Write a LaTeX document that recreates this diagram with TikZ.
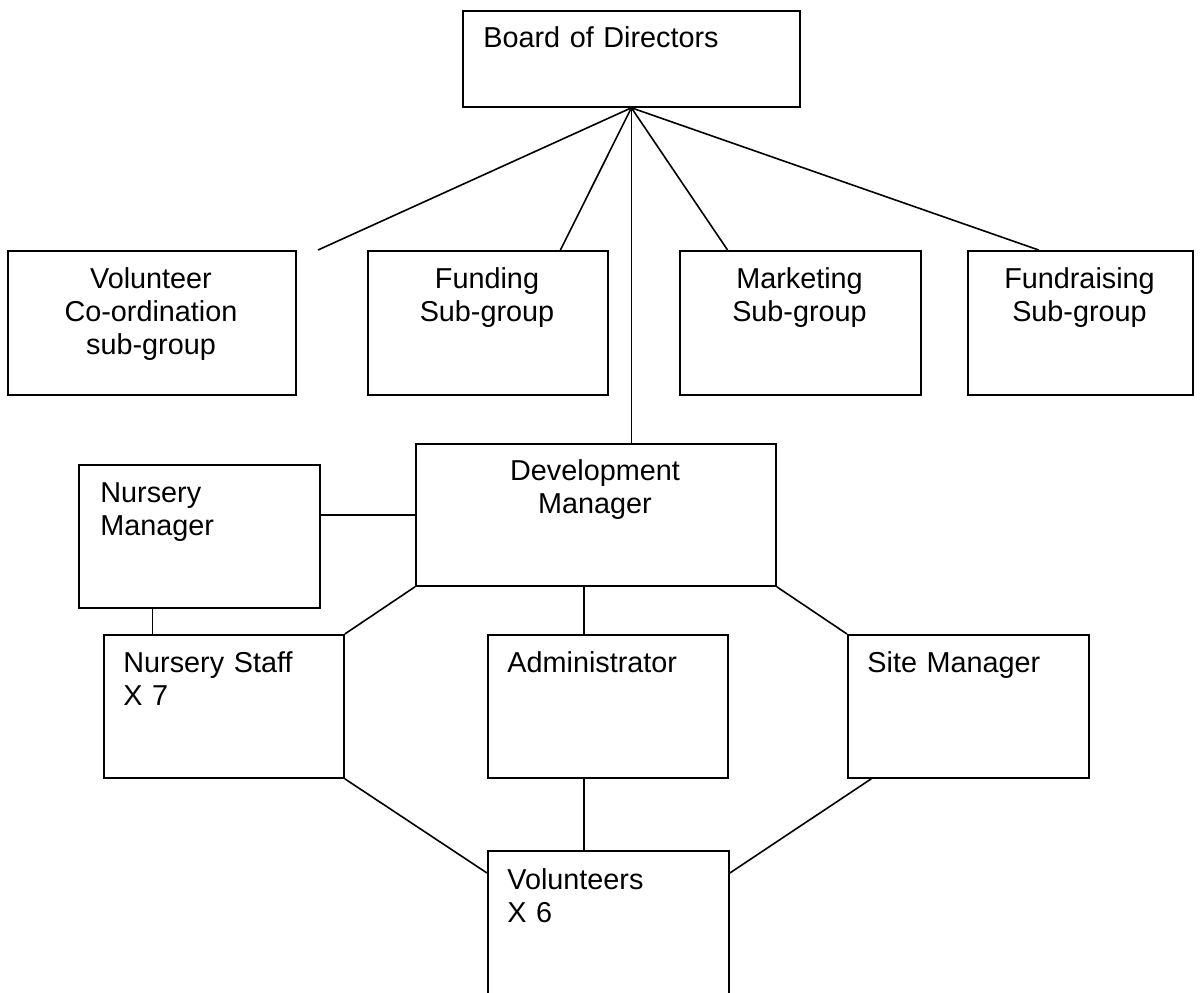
\documentclass[tikz,border=0pt]{standalone}
\usepackage{fontspec}
\setmainfont{Liberation Sans}
\usepackage{tikz}
\usetikzlibrary{calc}

\begin{document}
\begin{tikzpicture}[x=0.5pt,y=-0.5pt]
\tikzset{unit/.style = {shape=rectangle,draw,line width=0.9pt,inner sep=0pt,anchor=north west}}
\tikzset{lbl/.style = {inner sep=0pt,font=\fontsize{14.4}{16.5}\selectfont}}
\tikzset{lblleft/.style = {lbl,anchor=base west,align=left,text width=160pt}}
\tikzset{lblmid/.style = {lbl,anchor=base,align=center,text width=140pt}}
\tikzset{edge/.style = {-,line width=0.8pt}}
\useasboundingbox (0,0) rectangle (1200,992);
\clip (0,0) rectangle (1200,992);
% boxes
\node[unit,minimum width=168.5pt,minimum height=48pt] (board) at (462,10) {};
\node[unit,minimum width=144pt,minimum height=72pt] (volco) at (7,250) {};
\node[unit,minimum width=120pt,minimum height=72pt] (funding) at (367,250) {};
\node[unit,minimum width=120.5pt,minimum height=72pt] (marketing) at (679,250) {};
\node[unit,minimum width=112.5pt,minimum height=72pt] (fundraising) at (967,250) {};
\node[unit,minimum width=180pt,minimum height=71pt] (dev) at (415,443) {};
\node[unit,minimum width=120.5pt,minimum height=71.5pt] (nursm) at (78,464) {};
\node[unit,minimum width=120pt,minimum height=71.5pt] (staff) at (103,634) {};
\node[unit,minimum width=120pt,minimum height=71.5pt] (admin) at (487,634) {};
\node[unit,minimum width=120.5pt,minimum height=71.5pt] (site) at (847,634) {};
\node[unit,minimum width=120.5pt,minimum height=75pt] (vols) at (487,850) {};
% labels
\node[lblleft] (boardtxt) at (483,47) {Board of Directors};
\node[lblmid] (volcotxt) at (151,288) {Volunteer\\Co-ordination\\sub-group};
\node[lblmid] (fundingtxt) at (487,288) {Funding\\Sub-group};
\node[lblmid] (marketingtxt) at (799.5,288) {Marketing\\Sub-group};
\node[lblmid] (fundraisingtxt) at (1079.5,288) {Fundraising\\Sub-group};
\node[lblmid] (devtxt) at (595,480) {Development\\Manager};
\node[lblleft] (nursmtxt) at (100,502) {Nursery\\Manager};
\node[lblleft] (stafftxt) at (123,672) {Nursery Staff\\X 7};
\node[lblleft] (admintxt) at (507,672) {Administrator};
\node[lblleft] (sitetxt) at (867,672) {Site Manager};
\node[lblleft] (volstxt) at (507,889) {Volunteers\\X 6};
% connectors
\coordinate (volend) at (318,250);
\coordinate (nmdrop) at ($(nursm.south west)!0.307!(nursm.south east)$);
\coordinate (admtop) at ($(admin.north west)!0.4!(admin.north east)$);
\coordinate (sitedrop) at ($(site.south west)!0.1!(site.south east)$);
\draw[edge] (board.south) to (volend);
\draw[edge] (board.south) to ($(funding.north west)!0.8!(funding.north east)$);
\draw[edge] (board.south) to ($(marketing.north west)!0.2!(marketing.north east)$);
\draw[edge] (board.south) to ($(fundraising.north west)!0.316!(fundraising.north east)$);
\draw[edge] (board.south) to (board.south |- dev.north);
\draw[edge] (nursm.east |- dev.west) to (dev.west);
\draw[edge] (nmdrop) to (nmdrop |- staff.north);
\draw[edge] (dev.south west) to (staff.north east);
\draw[edge] (admtop |- dev.south) to (admtop);
\draw[edge] (dev.south east) to (site.north west);
\draw[edge] (staff.south east) to ($(vols.north west)+(0,23)$);
\draw[edge] (admtop |- admin.south) to (admtop |- vols.north);
\draw[edge] (sitedrop) to ($(vols.north east)+(0,23)$);
\end{tikzpicture}
\end{document}
